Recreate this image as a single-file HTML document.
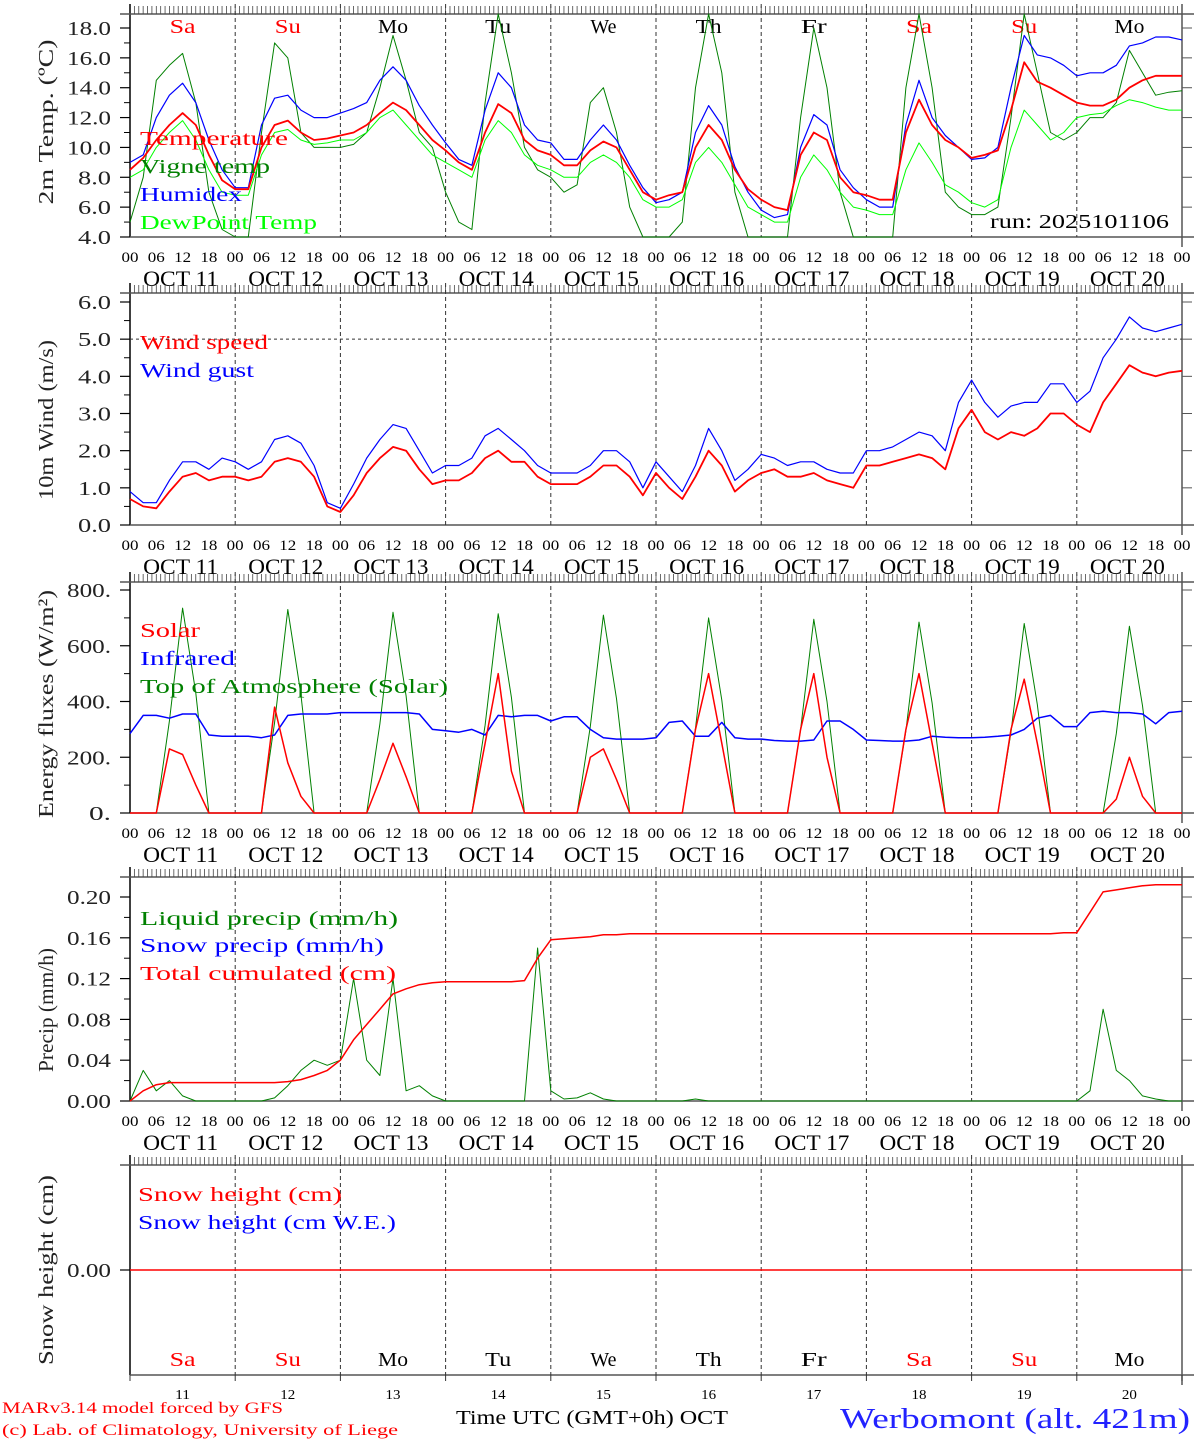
<!DOCTYPE html>
<html><head><meta charset="utf-8"><style>
body{margin:0;background:#fff;width:1194px;height:1440px;overflow:hidden}
svg{display:block;font-family:"Liberation Serif",serif}
</style></head><body>
<svg id="c" width="1194" height="1440" viewBox="0 0 1194 1440" xmlns="http://www.w3.org/2000/svg"></svg>
<script>
// ---- data (3-hourly from OCT 11 00 UTC) ----
const days = ["11","12","13","14","15","16","17","18","19","20"];
const dayNames = ["Sa","Su","Mo","Tu","We","Th","Fr","Sa","Su","Mo"];
const tempTicks = [4,6,8,10,12,14,16,18];
const windTicks = [0,1,2,3,4,5,6];
const energyTicks = [0,200,400,600,800];
const precipTicks = [0,0.04,0.08,0.12,0.16,0.20];
const temperature = [8.5,9.3,10.5,11.5,12.3,11.5,9.5,7.8, 7.2,7.2,10.0,11.5,11.8,11.0,10.5,10.6, 10.8,11.0,11.5,12.3,13.0,12.5,11.5,10.5, 9.8,9.0,8.5,11.0,12.9,12.3,10.5,9.8, 9.5,8.8,8.8,9.8,10.4,10.0,8.5,7.0, 6.5,6.8,7.0,10.0,11.5,10.5,8.5,7.2, 6.5,6.0,5.8,9.5,11.0,10.5,8.0,7.0, 6.8,6.5,6.5,11.0,13.2,11.5,10.5,10.0, 9.3,9.5,9.8,12.5,15.7,14.4,14.0,13.5, 13.0,12.8,12.8,13.2,14.0,14.5,14.8,14.8,14.8];
const vigne = [5.0,8.0,14.5,15.5,16.3,13.0,7.0,4.5, 3.5,3.5,11.0,17.0,16.0,11.0,10.0,10.0, 10.0,10.2,11.0,14.0,17.5,14.5,11.0,10.0, 7.0,5.0,4.5,13.0,19.0,15.0,10.0,8.5, 8.0,7.0,7.5,13.0,14.0,11.0,6.0,3.5, 3.0,3.0,5.0,14.0,19.5,15.0,7.0,3.5, 3.5,3.0,3.0,12.0,18.0,14.0,7.0,3.5, 3.0,3.0,3.5,14.0,19.5,14.0,7.0,6.0, 5.5,5.5,6.0,12.0,19.0,15.0,11.0,10.5, 11.0,12.0,12.0,13.0,16.5,15.0,13.5,13.7,13.8];
const humidex = [9.0,9.5,12,13.5,14.3,13,10.5,8.5, 7.3,7.3,11.5,13.3,13.5,12.5,12.0,12.0, 12.3,12.6,13,14.5,15.4,14.5,12.8,11.5, 10.3,9.2,8.8,12.5,15.0,14.0,11.5,10.5, 10.3,9.2,9.2,10.5,11.5,10.5,8.8,7.3, 6.3,6.5,7.0,11.0,12.8,11.5,8.7,7.0, 5.8,5.3,5.5,10.0,12.2,11.5,8.5,7.3, 6.5,6.0,6.0,11.5,14.5,12.0,10.8,10.0, 9.2,9.3,10.0,14.0,17.5,16.2,16.0,15.5, 14.8,15.0,15.0,15.5,16.8,17.0,17.4,17.4,17.2];
const dewpoint = [8.0,8.5,10,11,11.8,10.5,8.5,7.0, 6.8,6.8,9.5,11.0,11.2,10.5,10.2,10.3, 10.5,10.5,11.0,12.0,12.5,11.5,10.5,9.5, 9.0,8.5,8.0,10.5,11.8,11.0,9.5,8.8, 8.5,8.0,8.0,9.0,9.5,9.0,8.0,6.5, 6.0,6.0,6.5,9.0,10.0,9.0,7.5,6.0, 5.5,5.0,5.0,8.0,9.5,8.5,7.0,6.0, 5.8,5.5,5.5,8.5,10.3,9.0,7.5,7.0, 6.3,6.0,6.5,10.0,12.5,11.5,10.5,11.0, 12.0,12.2,12.3,12.8,13.2,13.0,12.7,12.5,12.5];
const windSpeed = [0.7,0.5,0.45,0.9,1.3,1.4,1.2,1.3, 1.3,1.2,1.3,1.7,1.8,1.7,1.3,0.5, 0.35,0.8,1.4,1.8,2.1,2.0,1.5,1.1, 1.2,1.2,1.4,1.8,2.0,1.7,1.7,1.3, 1.1,1.1,1.1,1.3,1.6,1.6,1.3,0.8, 1.4,1.0,0.7,1.3,2.0,1.6,0.9,1.2, 1.4,1.5,1.3,1.3,1.4,1.2,1.1,1.0, 1.6,1.6,1.7,1.8,1.9,1.8,1.5,2.6, 3.1,2.5,2.3,2.5,2.4,2.6,3.0,3.0, 2.7,2.5,3.3,3.8,4.3,4.1,4.0,4.1,4.15];
const windGust = [0.9,0.6,0.6,1.2,1.7,1.7,1.5,1.8, 1.7,1.5,1.7,2.3,2.4,2.2,1.6,0.6, 0.45,1.1,1.8,2.3,2.7,2.6,2.0,1.4, 1.6,1.6,1.8,2.4,2.6,2.3,2.0,1.6, 1.4,1.4,1.4,1.6,2.0,2.0,1.7,1.0, 1.7,1.3,0.9,1.6,2.6,2.0,1.2,1.5, 1.9,1.8,1.6,1.7,1.7,1.5,1.4,1.4, 2.0,2.0,2.1,2.3,2.5,2.4,2.0,3.3, 3.9,3.3,2.9,3.2,3.3,3.3,3.8,3.8, 3.3,3.6,4.5,5.0,5.6,5.3,5.2,5.3,5.4];
const solar = [0,0,0,230,210,100,0,0, 0,0,0,380,180,60,0,0, 0,0,0,120,250,130,0,0, 0,0,0,250,500,150,0,0, 0,0,0,200,230,120,0,0, 0,0,0,300,500,250,0,0, 0,0,0,300,500,200,0,0, 0,0,0,300,500,250,0,0, 0,0,0,300,480,250,0,0, 0,0,0,50,200,60,0,0,0];
const infrared = [285,350,350,340,355,355,280,275, 275,275,270,280,350,355,355,355, 360,360,360,360,360,360,355,300, 295,290,300,280,350,345,350,350, 330,345,345,300,270,265,265,265, 270,325,330,275,275,325,270,265, 265,260,258,258,262,330,330,300, 262,260,258,258,262,275,272,270, 270,272,275,280,300,340,350,310, 310,360,365,360,360,355,320,360,365];
const toa = [0,0,0,330,735,430,0,0, 0,0,0,325,730,425,0,0, 0,0,0,320,720,420,0,0, 0,0,0,315,715,415,0,0, 0,0,0,310,710,410,0,0, 0,0,0,305,700,405,0,0, 0,0,0,300,695,400,0,0, 0,0,0,295,685,395,0,0, 0,0,0,290,680,390,0,0, 0,0,0,285,670,385,0,0,0];
const liquid = [0,0.03,0.01,0.02,0.005,0,0,0, 0,0,0,0.003,0.015,0.03,0.04,0.035, 0.04,0.12,0.04,0.025,0.12,0.01,0.015,0.005, 0,0,0,0,0,0,0,0.15, 0.01,0.002,0.003,0.008,0.002,0,0,0, 0,0,0,0.002,0,0,0,0, 0,0,0,0,0,0,0,0, 0,0,0,0,0,0,0,0, 0,0,0,0,0,0,0,0, 0,0.01,0.09,0.03,0.02,0.005,0.002,0,0];
const cumulated = [0,0.01,0.016,0.018,0.018,0.018,0.018,0.018, 0.018,0.018,0.018,0.018,0.019,0.021,0.025,0.03, 0.04,0.06,0.075,0.09,0.105,0.11,0.114,0.116, 0.117,0.117,0.117,0.117,0.117,0.117,0.118,0.14, 0.158,0.159,0.16,0.161,0.163,0.163,0.164,0.164, 0.164,0.164,0.164,0.164,0.164,0.164,0.164,0.164, 0.164,0.164,0.164,0.164,0.164,0.164,0.164,0.164, 0.164,0.164,0.164,0.164,0.164,0.164,0.164,0.164, 0.164,0.164,0.164,0.164,0.164,0.164,0.164,0.165, 0.165,0.185,0.205,0.207,0.209,0.211,0.212,0.212,0.212];

const svg = document.getElementById('c');
const NS = 'http://www.w3.org/2000/svg';
const X0 = 130, X1 = 1182;
function xh(h){ return X0 + h*(X1-X0)/240; }
function el(tag, attrs, parent){ const e=document.createElementNS(NS,tag); for(const k in attrs) e.setAttribute(k,attrs[k]); (parent||svg).appendChild(e); return e; }
function txt(s, attrs, parent){ const e=el('text',attrs,parent); e.textContent=s; return e; }
function fit(e,len){ e.setAttribute('textLength',len); e.setAttribute('lengthAdjust','spacingAndGlyphs'); return e; }

function panel(name, top, bot, yOf, ticks, fmt, ylabel, ylabelY, ylabelLen){
  const g = el('g',{});
  
  
  el('line',{x1:X0,y1:top-10,x2:X0,y2:bot,stroke:'#000','stroke-width':1.5},g);
  el('line',{x1:X1,y1:top-10,x2:X1,y2:bot+10,stroke:'#555','stroke-width':1.5},g);
  el('line',{x1:120,y1:top,x2:1194,y2:top,stroke:'#555','stroke-width':1.5},g);
  el('line',{x1:X0,y1:bot,x2:1194,y2:bot,stroke:'#555','stroke-width':1.5},g);
  for(let h=1;h<240;h++){ el('line',{x1:xh(h),y1:top-8,x2:xh(h),y2:top,stroke:'#444','stroke-width':0.8},g); }
  for(let d=1;d<10;d++){ el('line',{x1:xh(d*24),y1:top-10,x2:xh(d*24),y2:bot,stroke:'#333','stroke-width':1,'stroke-dasharray':'4,3'},g); }
  if(ticks){
    for(let i=0;i<ticks.length;i++){
      const y=yOf(ticks[i]);
      el('line',{x1:120,y1:y,x2:X0,y2:y,stroke:'#000','stroke-width':1.2},g);
      el('line',{x1:X1,y1:y,x2:1192,y2:y,stroke:'#555','stroke-width':1},g);
      const s=fmt(ticks[i]);
      const t=fit(txt(s,{x:111,y:y+7,'text-anchor':'end','font-size':20,fill:'#222'},g), s.length*11);
      
      
      if(i<ticks.length-1){ const ym=(y+yOf(ticks[i+1]))/2; el('line',{x1:124,y1:ym,x2:X0,y2:ym,stroke:'#000','stroke-width':1},g);}
    }
  }
  const yl=fit(txt(ylabel,{x:0,y:0,'font-size':21,fill:'#222','text-anchor':'middle',transform:`translate(53,${ylabelY}) rotate(-90)`},g), ylabelLen);
  
  
  return g;
}
function xLabels(yT, yD){
  const g=el('g',{});
  
  
  for(let h=0;h<=240;h+=6){ fit(txt(String(h%24).padStart(2,'0'),{x:xh(h),y:yT,'text-anchor':'middle','font-size':15,fill:'#000'},g),17); }
  for(let d=0;d<10;d++){ fit(txt('OCT '+days[d],{x:xh(d*24+12)-2,y:yD,'text-anchor':'middle','font-size':22,fill:'#000'},g),75); }
}
function series(name, arr, yOf, color, w, g, ymin, ymax){
  let pts=[];
  for(let i=0;i<arr.length;i++){ let y=yOf(arr[i]); if(ymin!==undefined){ y=Math.max(ymin,Math.min(ymax,y)); } pts.push(xh(i*3).toFixed(1)+','+y.toFixed(1)); }
  const p=el('polyline',{points:pts.join(' '),fill:'none',stroke:color,'stroke-width':w,'stroke-linejoin':'round'},g);
  
  
  return p;
}
function legend(s, x, y, color, len){
  const t=fit(txt(s,{x:x,y:y,'font-size':20,fill:color}),len);
  
  
}
function dayRow(g,y){
  for(let d=0;d<10;d++){ const weekend=(d==0||d==1||d==7||d==8); fit(txt(dayNames[d],{x:xh(d*24+12),y:y,'text-anchor':'middle','font-size':20,fill:weekend?'#f00':'#000'},g),dayNames[d]=="Mo"?30:26); }
}

// Panel 1 temperature
const yT = v => 237 - (v-4)*(237-28)/14;
const g1=panel('temperature-panel',14,237,yT,tempTicks,v=>v.toFixed(1),'2m Temp. (ºC)',122,165);
dayRow(g1,33);
series('vigne-temp-line',vigne,yT,'#008000',1,g1,14,237);
series('dewpoint-line',dewpoint,yT,'#00ff00',1,g1,14,237);
series('humidex-line',humidex,yT,'#0000ff',1.2,g1,14,237);
series('temperature-line',temperature,yT,'#ff0000',1.8,g1,14,237);
legend('Temperature',140,145,'#f00',148);
legend('Vigne temp',140,173,'#008000',130);
legend('Humidex',140,201,'#00f',102);
legend('DewPoint Temp',140,229,'#0f0',177);
fit(txt('run: 2025101106',{x:990,y:228,'font-size':20,fill:'#000'},g1),179);
xLabels(262,286);

// Panel 2 wind
const yW = v => 525 - v*(525-302)/6;
const g2=panel('wind-panel',293,525,yW,windTicks,v=>v.toFixed(1),'10m Wind (m/s)',420,160);
el('line',{x1:X0,y1:yW(5),x2:X1,y2:yW(5),stroke:'#333','stroke-dasharray':'3,3','stroke-width':1},g2);
series('wind-gust-line',windGust,yW,'#0000ff',1.2,g2);
series('wind-speed-line',windSpeed,yW,'#ff0000',1.8,g2);
legend('Wind speed',140,349,'#f00',128);
legend('Wind gust',140,377,'#00f',114);
xLabels(550,574);

// Panel 3 energy
const yE = v => 813 - v*(813-590)/800;
const g3=panel('energy-panel',582,813,yE,energyTicks,v=>v===0?'0.':v+'.','Energy fluxes (W/m²)',704,228);
series('toa-solar-line',toa,yE,'#008000',1,g3);
series('infrared-line',infrared,yE,'#0000ff',1.5,g3);
series('solar-line',solar,yE,'#ff0000',1.5,g3);
legend('Solar',140,637,'#f00',60);
legend('Infrared',140,665,'#00f',95);
legend('Top of Atmosphere (Solar)',140,693,'#008000',308);
xLabels(838,862);

// Panel 4 precip
const yP = v => 1101 - v*(1101-897)/0.2;
const g4=panel('precip-panel',877,1101,yP,precipTicks,v=>v.toFixed(2),'Precip (mm/h)',1010,124);
series('liquid-precip-line',liquid,yP,'#008000',1,g4);
series('cumulated-precip-line',cumulated,yP,'#ff0000',1.5,g4);
legend('Liquid precip (mm/h)',140,925,'#008000',258);
legend('Snow precip (mm/h)',140,952,'#00f',244);
legend('Total cumulated (cm)',140,980,'#f00',256);
xLabels(1126,1150);

// Panel 5 snow
const yS = v => 1270;
const g5=panel('snow-panel',1165,1375,yS,[0],v=>v.toFixed(2),'Snow height (cm)',1270,190);
el('line',{x1:X0,y1:1270,x2:X1,y2:1270,stroke:'#f00','stroke-width':1.5},g5);
legend('Snow height (cm)',138,1201,'#f00',204);
legend('Snow height (cm W.E.)',138,1229,'#00f',258);
dayRow(g5,1366);
for(let d=0;d<10;d++){ fit(txt(days[d],{x:xh(d*24+12),y:1399,'text-anchor':'middle','font-size':14,fill:'#000'},g5),15); }
for(let d=0;d<=10;d++){ el('line',{x1:xh(d*24),y1:1375,x2:xh(d*24),y2:1381,stroke:'#333'},g5); }

const t1=fit(txt('Time UTC (GMT+0h) OCT',{x:456,y:1424,'font-size':20,fill:'#000'}),272);


const t2=fit(txt('MARv3.14 model forced by GFS',{x:2,y:1413,'font-size':16,fill:'#f00'}),281);


const t3=fit(txt('(c) Lab. of Climatology, University of Liege',{x:2,y:1435,'font-size':16,fill:'#f00'}),396);


const t4=fit(txt('Werbomont (alt. 421m)',{x:840,y:1428,'font-size':28,fill:'#22f'}),350);


</script>
</body></html>
